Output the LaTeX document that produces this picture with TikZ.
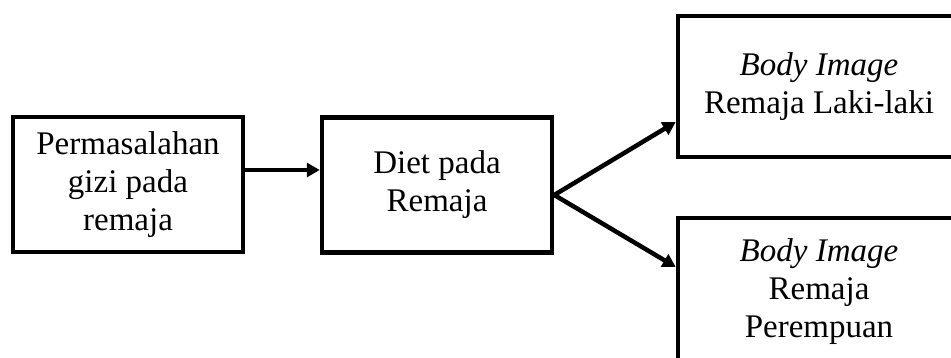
\documentclass[tikz,border=0pt]{standalone}
\usepackage{fontspec}
\setmainfont{Liberation Serif}
\usetikzlibrary{arrows.meta}

\begin{document}
\begin{tikzpicture}[
  x=1pt, y=1pt,
  every node/.style={font=\fontsize{33pt}{38pt}\selectfont, align=center},
  box/.style={draw, line width=4.5pt, inner sep=0pt},
  small box/.style={box, minimum width=230pt, minimum height=135pt},
  wide box/.style={box, minimum width=292pt, minimum height=141pt},
  link/.style={line width=4.5pt, -{Triangle[length=13pt,width=14pt]}}
]
\useasboundingbox (0,0) rectangle (951,358);
\clip (0,0) rectangle (951,358);

\node[small box] (masalah) at (128,173.5) {Permasalahan\\gizi pada\\remaja};
\node[small box] (diet) at (437,173) {Diet pada\\Remaja};
\node[wide box] (laki) at (824,271.5) {\hspace*{-10pt}\textit{Body Image}\\\hspace*{-10pt}Remaja Laki-laki};
\node[wide box, minimum height=148pt] (perempuan) at (824,66) {\hspace*{-10pt}\textit{Body Image}\\\hspace*{-10pt}Remaja\\\hspace*{-10pt}Perempuan};

\draw[link] ([yshift=14.5pt]masalah.east) -- ([yshift=15pt]diet.west);
\draw[link] ([yshift=-10pt]diet.east) -- ([yshift=-35.5pt]laki.west);
\draw[link] ([yshift=-10pt]diet.east) -- ([yshift=25pt]perempuan.west);
\end{tikzpicture}
\end{document}
